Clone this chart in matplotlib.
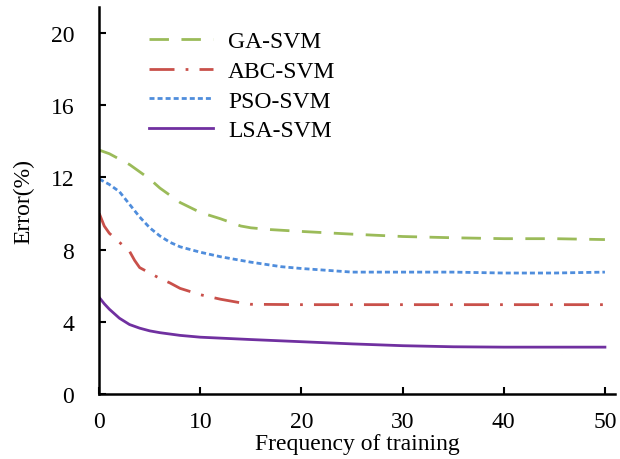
import matplotlib
matplotlib.use("Agg")
from matplotlib import pyplot as plt

plt.rcParams['font.family'] = ['Liberation Serif', 'DejaVu Serif']

# error curves
ga_x = [0, 1, 2, 3, 4, 5, 6, 7, 8, 10, 12, 14, 15, 17, 20, 25, 30, 35, 40, 45, 50]
ga_y = [13.5, 13.3, 13.0, 12.7, 12.3, 11.9, 11.4, 11.0, 10.6, 10.05, 9.7, 9.3, 9.2, 9.1, 9.0, 8.85, 8.72, 8.65, 8.6, 8.6, 8.55]

abc_x = [0, 0.5, 1, 2, 3, 3.5, 4, 5, 6, 7, 8, 10, 12, 14, 15, 20, 30, 40, 50]
abc_y = [10.0, 9.3, 8.9, 8.4, 7.9, 7.4, 7.0, 6.7, 6.4, 6.15, 5.85, 5.5, 5.25, 5.05, 4.97, 4.95, 4.95, 4.95, 4.95]

pso_x = [0, 1, 2, 3, 4, 5, 6, 7, 8, 10, 12, 15, 18, 20, 25, 30, 35, 40, 45, 50]
pso_y = [11.9, 11.6, 11.2, 10.5, 9.8, 9.2, 8.75, 8.4, 8.15, 7.85, 7.6, 7.3, 7.05, 6.95, 6.75, 6.75, 6.75, 6.7, 6.7, 6.75]

lsa_x = [0, 0.5, 1, 2, 3, 4, 5, 6, 8, 10, 15, 20, 25, 30, 35, 40, 45, 50]
lsa_y = [5.35, 5.0, 4.7, 4.2, 3.85, 3.65, 3.5, 3.4, 3.25, 3.15, 3.02, 2.9, 2.78, 2.68, 2.62, 2.6, 2.6, 2.6]

fig = plt.figure(figsize=(6.2, 4.6), dpi=100)
ax = fig.add_axes([0.16, 0.141, 0.832, 0.841])

ax.plot(ga_x, ga_y, color='#9bbb59', lw=2, dashes=(7, 4.5), label='GA-SVM')
ax.plot(abc_x, abc_y, color='#c9504a', lw=2, dashes=(9, 4, 1, 4), label='ABC-SVM')
ax.plot(pso_x, pso_y, color='#4f8ddc', lw=2, dashes=(1.8, 1.1), label='PSO-SVM')
ax.plot(lsa_x, lsa_y, color='#7030a0', lw=2, label='LSA-SVM')

ax.set_xlim(0, 51)
ax.set_ylim(0, 21.4)
ax.set_xticks([0, 10, 20, 30, 40, 50])
ax.set_yticks([0, 4, 8, 12, 16, 20])
ax.tick_params(direction='in', length=5, width=1.5, labelsize=17)
ax.tick_params(axis='y', pad=18)
ax.tick_params(axis='x', pad=12)
for s in ['top', 'right']:
    ax.spines[s].set_visible(False)
for s in ['left', 'bottom']:
    ax.spines[s].set_linewidth(1.8)

ax.set_xlabel('Frequency of training', fontsize=17, labelpad=1)
ax.set_ylabel('Error(%)', fontsize=17, labelpad=12)
ax.legend(loc='upper left', bbox_to_anchor=(0.055, 0.995), frameon=False, fontsize=17,
          handlelength=2.7, handletextpad=0.65, labelspacing=0.35)

fig.savefig('out.png', dpi=100)
